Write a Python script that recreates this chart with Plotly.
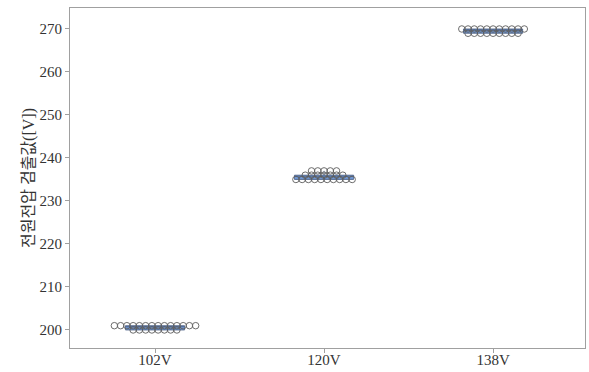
import plotly.graph_objects as go

# ---- data ----
categories = ["102V", "120V", "138V"]
# distinct detected values per group and how many times each occurs
values_102 = [200, 201]
counts_102 = [8, 14]
values_120 = [235, 236, 237]
counts_120 = [10, 7, 5]
values_138 = [269, 270]
counts_138 = [9, 11]
y_ticks = [200, 210, 220, 230, 240, 250, 260, 270]
y_title = "전원전압 검출값([V])"

groups = [(values_102, counts_102), (values_120, counts_120), (values_138, counts_138)]

FONT = "Liberation Serif, Noto Sans CJK KR, serif"
SPACING = 0.037  # beeswarm horizontal step in category units

fig = go.Figure()

# boxes
for cat, (vals, cnts) in zip(categories, groups):
    ys = []
    for v, c in zip(vals, cnts):
        ys += [v] * c
    fig.add_trace(go.Box(
        x=[cat] * len(ys), y=ys, boxpoints=False, width=0.35,
        fillcolor="#6f96d2", line=dict(color="#4a5f85", width=0.8),
        whiskerwidth=0, showlegend=False, hoverinfo="skip",
    ))

# beeswarm points (offsets computed from counts)
px, py = [], []
for i, (vals, cnts) in enumerate(groups):
    for v, c in zip(vals, cnts):
        for k in range(c):
            px.append(i + (k - (c - 1) / 2) * SPACING)
            py.append(v)
fig.add_trace(go.Scatter(
    x=px, y=py, mode="markers", xaxis="x2", showlegend=False,
    marker=dict(symbol="circle-open", size=6.5, color="#5c5c5c", line=dict(width=0.9)),
    hoverinfo="skip",
))

x_range = [-0.503, 2.544]
fig.update_layout(
    width=589, height=372,
    margin=dict(l=70, r=4, t=8, b=24),
    paper_bgcolor="white", plot_bgcolor="white",
    font=dict(family=FONT, size=15, color="#333"),
    xaxis=dict(
        type="category", categoryorder="array", categoryarray=categories,
        range=x_range, showline=True, linecolor="#a0a0a0", linewidth=1, mirror=True,
        ticks="outside", ticklen=4, tickcolor="#a0a0a0", showgrid=False, zeroline=False,
        tickfont=dict(family=FONT, size=15, color="#333"), automargin=False,
        ticklabelstandoff=-6,
    ),
    xaxis2=dict(range=x_range, overlaying="x", visible=False, showgrid=False, zeroline=False),
    yaxis=dict(
        range=[195.81, 274.88], tickvals=y_ticks, showline=True, linecolor="#a0a0a0",
        linewidth=1, mirror=True, ticks="outside", ticklen=4, tickcolor="#a0a0a0",
        showgrid=False, zeroline=False, automargin=False,
        tickfont=dict(family=FONT, size=15, color="#333"),
        title=dict(text=y_title, font=dict(family=FONT, size=16, color="#333"), standoff=0),
    ),
)

fig.write_html("out.html")
